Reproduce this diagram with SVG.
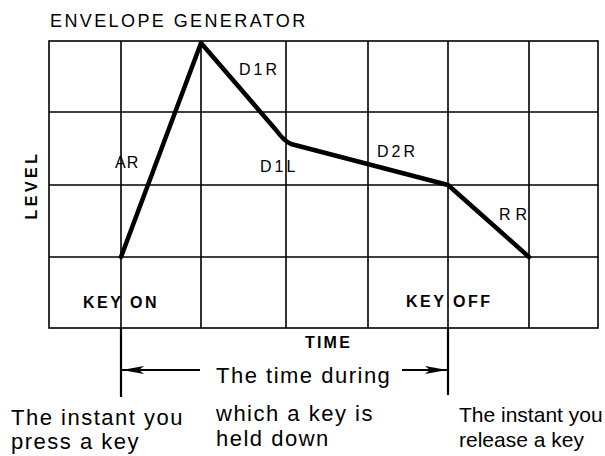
<svg xmlns="http://www.w3.org/2000/svg" width="605" height="456" viewBox="0 0 605 456">
<defs>
<style>
.grid{stroke:#000;stroke-width:1.6;fill:none}
.env{stroke:#000;stroke-width:4.5;fill:none;stroke-linejoin:round;stroke-linecap:round}
.lbl{font-family:"Liberation Sans",Arial,sans-serif;font-size:16px;letter-spacing:3px;fill:#000}
.b{font-weight:bold}
.txt{font-family:"Liberation Sans",Arial,sans-serif;font-size:22px;letter-spacing:1.5px;fill:#000}
.txr{font-family:"Liberation Sans",Arial,sans-serif;font-size:21px;letter-spacing:0px;fill:#000}
.conn{stroke:#000;stroke-width:2.2;fill:none}
</style>
<marker id="ah" viewBox="0 0 22 10" refX="22" refY="5" markerWidth="22" markerHeight="10" markerUnits="userSpaceOnUse" orient="auto">
<path d="M0,1 L22,5 L0,9 L5,5 Z" fill="#000"/>
</marker>
</defs>
<rect width="605" height="456" fill="#fff"/>
<text class="lbl" x="50" y="27" style="font-size:18px;letter-spacing:2.4px">ENVELOPE GENERATOR</text>
<g id="grid">
<rect class="grid" x="49" y="41" width="549" height="287"/>
<path class="grid" d="M121,41V328M201,41V328M286,41V328M368,41V328M448,41V328M529,41V328M49,112H598M49,185H598M49,257H598"/>
</g>
<g id="envelope">
<path class="env" d="M121,257 L201,43 L276,130 Q284,141 291,144 L448,185 L529,257"/>
</g>
<g id="labels">
<text class="lbl" x="239" y="75">D1R</text>
<text class="lbl" x="115" y="168" style="letter-spacing:1px">AR</text>
<text class="lbl" x="260" y="172">D1L</text>
<text class="lbl" x="377" y="157">D2R</text>
<text class="lbl" x="499" y="220" style="letter-spacing:5px">RR</text>
<text class="lbl b" x="83" y="308" style="letter-spacing:2.5px">KEY ON</text>
<text class="lbl b" x="406" y="307" style="letter-spacing:2.5px">KEY OFF</text>
<text class="lbl b" x="305" y="348" style="letter-spacing:2.2px">TIME</text>
<text class="lbl b" transform="translate(37,185) rotate(-90)" text-anchor="middle" style="letter-spacing:3.5px">LEVEL</text>
</g>
<g id="connectors">
<path class="conn" d="M121,328V397"/>
<path class="conn" d="M448,328V395"/>
<path class="conn" d="M200,370H122" marker-end="url(#ah)"/>
<path class="conn" d="M402,370H447" marker-end="url(#ah)"/>
</g>
<g id="annotations">
<text class="txt" x="216" y="383">The time during</text>
<text class="txt" x="216" y="421">which a key is</text>
<text class="txt" x="216" y="446">held down</text>
<text class="txt" x="11" y="425">The instant you</text>
<text class="txt" x="11" y="449">press a key</text>
<text class="txr" x="459" y="422">The instant you</text>
<text class="txr" x="459" y="447">release a key</text>
</g>
</svg>
